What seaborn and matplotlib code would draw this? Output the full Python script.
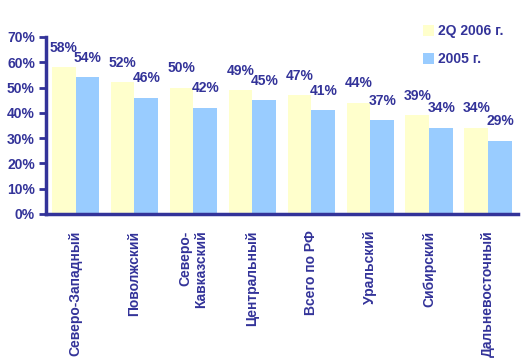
import pandas as pd
import seaborn as sns
from matplotlib import pyplot as plt
from matplotlib.ticker import FuncFormatter, FixedLocator

# данные
regions = ["Северо-Западный", "Поволжский", "Северо-\nКавказский", "Центральный",
           "Всего по РФ", "Уральский", "Сибирский", "Дальневосточный"]
q2_2006 = [58, 52, 50, 49, 47, 44, 39, 34]
y2005 = [54, 46, 42, 45, 41, 37, 34, 29]
series_names = ["2Q 2006 г.", "2005 г."]

navy = "#333399"
colors = ["#FFFFCC", "#99CCFF"]

sns.set_style("white")
plt.rcParams['font.family'] = ['Liberation Sans', 'DejaVu Sans']
plt.rcParams['font.weight'] = 'bold'

df = pd.DataFrame({
    "region": regions * 2,
    "value": q2_2006 + y2005,
    "series": [series_names[0]] * len(regions) + [series_names[1]] * len(regions),
})

fig = plt.figure(figsize=(5.26, 3.62), dpi=100)
ax = fig.add_axes([0.0875, 0.409, 0.897, 0.489])

sns.barplot(ax=ax, data=df, x="region", y="value", hue="series", palette=colors,
            saturation=1, width=0.81, gap=0, linewidth=0, legend=True)

for cont in ax.containers:
    ax.bar_label(cont, fmt="%d%%", padding=9, color=navy, fontsize=10, fontweight="bold")

ax.set_ylim(0, 70)
ax.set_xlim(-0.5, len(regions) - 0.5)
ax.set_xlabel("")
ax.set_ylabel("")
ax.yaxis.set_major_locator(FixedLocator(range(0, 71, 10)))
ax.yaxis.set_major_formatter(FuncFormatter(lambda v, p: f"{v:.0f}%"))

ax.set_xticks(range(len(regions)))
ax.set_xticklabels(regions, rotation=90, va="top", ha="center", multialignment="right")
ax.set_xticks([i - 0.5 for i in range(len(regions) + 1)], minor=True)
ax.tick_params(axis="x", which="major", length=0, pad=12, labelsize=10, colors=navy)
ax.tick_params(axis="x", which="minor", length=5, width=2, color=navy, direction="out")
ax.tick_params(axis="y", length=5, width=2, color=navy, direction="out", labelsize=10,
               labelcolor=navy, pad=3, left=True)
for lab in ax.get_xticklabels() + ax.get_yticklabels():
    lab.set_fontweight("bold")

for s in ["top", "right"]:
    ax.spines[s].set_visible(False)
for s in ["left", "bottom"]:
    ax.spines[s].set_color(navy)
    ax.spines[s].set_linewidth(2.5)

leg = ax.legend(loc="upper left", bbox_to_anchor=(410 / 526, 1 - 12 / 362),
                bbox_transform=fig.transFigure, frameon=False, handlelength=0.8,
                handleheight=0.8, handletextpad=0.3, labelspacing=1.0, fontsize=10)
for t in leg.get_texts():
    t.set_color(navy)
    t.set_fontweight("bold")

fig.savefig("out.png", dpi=100)
